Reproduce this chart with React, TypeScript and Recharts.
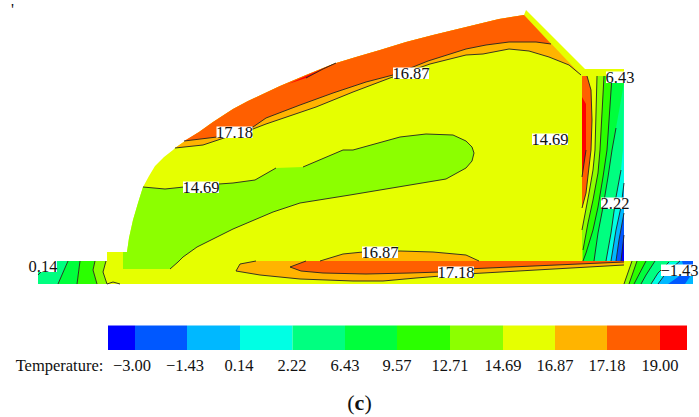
import React from 'react';
import {
  Polygon,
  ReferenceArea,
  Scatter,
  ScatterChart,
  XAxis,
  YAxis,
} from 'recharts';

type Pair = [number, number];

const colorStops = [108, 135, 187, 240, 292.5, 345, 397, 450, 503, 555, 607, 660, 687];
const tickValues = ['−3.00', '−1.43', '0.14', '2.22', '6.43', '9.57', '12.71', '14.69', '16.87', '17.18', '19.00'];
const tickPositions = [132, 185, 239, 292, 345, 397, 450, 503, 555, 607, 660];

const BLUE = '#0000ff';
const AZURE = '#0058ff';
const SKY = '#00b8ff';
const CYAN = '#00ffe4';
const SPRING = '#00ff80';
const GREEN = '#00ff3c';
const LIME = '#2bff00';
const LEAF = '#8cff00';
const YELLOW = '#e6ff00';
const AMBER = '#ffb400';
const ORANGE = '#ff5f00';
const RED = '#ff0000';
const levelColors = [BLUE, AZURE, SKY, CYAN, SPRING, GREEN, LIME, LEAF, YELLOW, AMBER, ORANGE, RED];

// section outline
const domeEdge: Pair[] = [[175, 148], [185, 141], [199, 132], [213, 122], [233, 109], [248, 101], [263, 94], [280, 86], [306, 75], [333, 64], [356, 57], [380, 50], [406, 42], [433, 35], [466, 27], [499, 19], [524, 15]];
const domeFlank: Pair[] = [[127, 252], [129, 238], [133, 220], [138, 203], [143, 187], [149, 176], [155, 166], [164, 157], [173, 150]];
const outline: Pair[] = [[38, 261], [107, 261], [107, 252], ...domeFlank, ...domeEdge, [526, 10], [585, 69], [624, 69], [624, 261], [693, 261], [693, 284], [38, 284]];

// top band
const upperContour: Pair[] = [[184, 141], [217, 137], [253, 127], [266, 118], [300, 105], [333, 93], [366, 82], [393, 75], [428, 61], [466, 49], [486, 45], [509, 42], [536, 42], [551, 44]];
const lowerContour: Pair[] = [[175, 148], [203, 145], [227, 137], [253, 129], [266, 124], [316, 107], [353, 92], [390, 78], [430, 64], [466, 55], [483, 54], [509, 49], [529, 51], [549, 57], [569, 65], [581, 75]];
const redSliver: Pair[] = [[288, 84], [306, 76], [336, 63], [323, 69], [306, 78]];

// central cold blob
const blobUpperA: Pair[] = [[143, 187], [165, 189], [184, 187], [219, 184], [233, 183], [255, 180], [276, 168]];
const blobUpperB: Pair[] = [[303, 167], [343, 150], [353, 150], [400, 137], [426, 134], [453, 135], [466, 141], [472, 147], [474, 153], [472, 161], [466, 168], [446, 179], [350, 195], [300, 203], [273, 212], [233, 229], [197, 247], [183, 257], [178, 262], [170, 269]];
const blobEdge: Pair[] = [[123, 269], [123, 252], [127, 252], [129, 238], [133, 220], [138, 203]];

// bottom lens
const lensTop: Pair[] = [[320, 261], [343, 254], [363, 252], [400, 251], [433, 252], [466, 255], [479, 261]];
const lensBottom: Pair[] = [[236, 271], [260, 275], [300, 279], [353, 281], [383, 281], [416, 278], [466, 274], [624, 265]];
const lensLeft: Pair[] = [[236, 271], [240, 264], [256, 261]];
const coreBottom: Pair[] = [[306, 261], [290, 267], [301, 271], [323, 273], [366, 274], [410, 273], [440, 272], [466, 269], [624, 262]];

// right column
const colOrange: Pair[] = [[587, 76], [591, 90], [592, 120], [591, 150], [589, 167], [586, 193], [582, 208]];
const colRed: Pair[] = [[582, 97], [586, 104], [586, 150], [582, 177]];
const colYellow: Pair[] = [[597, 76], [595, 150], [593, 170], [589, 193], [582, 230]];
const colLeaf: Pair[] = [[604, 76], [600, 150], [598, 173], [593, 200], [588, 223], [583, 250]];
const colLime: Pair[] = [[612, 76], [607, 150], [603, 177], [598, 207], [593, 230], [586, 253], [583, 261]];
const colGreen: Pair[] = [[624, 83], [616, 128], [612, 150], [608, 177], [603, 207], [598, 233], [594, 261]];
const colSpring: Pair[] = [[624, 100], [623, 150], [621, 170], [616, 197], [611, 233], [606, 261]];
const colCyan: Pair[] = [[624, 183], [621, 207], [616, 230], [611, 261]];
const colSky: Pair[] = [[624, 213], [619, 240], [616, 261]];
const colAzure: Pair[] = [[624, 235], [621, 261]];

// left foot
const leftSpring: Pair[] = [[68, 261], [58, 284]];
const leftGreen: Pair[] = [[80, 261], [77, 284]];
const leftLime: Pair[] = [[95, 261], [93, 270], [97, 284]];
const leftLeaf: Pair[] = [[106, 261], [103, 272], [107, 284]];
const leftArc: Pair[] = [[107, 284], [113, 282], [120, 284]];
const leftStub: Pair[] = [[38, 275], [42, 271]];

// right foot
const rightYellow: Pair[] = [[632, 261], [624, 284]];
const rightLeaf: Pair[] = [[637, 261], [629, 284]];
const rightLime: Pair[] = [[646, 261], [634, 284]];
const rightGreen: Pair[] = [[655, 261], [646, 275], [641, 284]];
const rightSpring: Pair[] = [[669, 262], [658, 273], [651, 284]];
const rightCyan: Pair[] = [[680, 261], [666, 273], [658, 284]];
const rightBlue: Pair[] = [[668, 284], [678, 277], [684, 268], [682, 261], [693, 261], [693, 272], [685, 284]];

const contourLabels = [
  { x: 411, y: 73, text: '16.87' },
  { x: 234.5, y: 132, text: '17.18' },
  { x: 550, y: 139, text: '14.69' },
  { x: 620, y: 77, text: '6.43' },
  { x: 201, y: 187, text: '14.69' },
  { x: 615, y: 203, text: '2.22' },
  { x: 380, y: 252, text: '16.87' },
  { x: 456, y: 272, text: '17.18' },
  { x: 43, y: 266, text: '0.14' },
  { x: 679.5, y: 270, text: '−1.43' },
];

const toPoints = (list: Pair[]) => list.map(([x, y]) => ({ x, y }));
const FONT = '"Liberation Serif", "Times New Roman", serif';
const noDot = () => null;

const regions: { color: string; pts: Pair[] }[] = [
  { color: YELLOW, pts: outline },
  // top band
  { color: AMBER, pts: [...domeEdge, [581, 75], ...[...lowerContour].reverse()] },
  { color: ORANGE, pts: [[184, 141], ...domeEdge.slice(2), [551, 44], ...[...upperContour].reverse()] },
  { color: RED, pts: redSliver },
  // cold blob
  { color: LEAF, pts: [...blobEdge, ...blobUpperA, ...blobUpperB] },
  // lens
  { color: AMBER, pts: [...lensLeft, ...lensTop, [624, 261], ...[...lensBottom].reverse()] },
  { color: ORANGE, pts: [[624, 261], ...[...coreBottom].reverse()] },
  // column
  { color: ORANGE, pts: [[582, 76], ...colOrange] },
  { color: RED, pts: colRed },
  { color: LEAF, pts: [...colYellow, [582, 261], [624, 261], [624, 76]] },
  { color: LIME, pts: [...colLeaf, [583, 261], [624, 261], [624, 76]] },
  { color: GREEN, pts: [...colLime, [624, 261], [624, 76]] },
  { color: SPRING, pts: [...colGreen, [624, 261]] },
  { color: CYAN, pts: [...colSpring, [624, 261]] },
  { color: SKY, pts: [...colCyan, [624, 261]] },
  { color: AZURE, pts: [...colSky, [624, 261]] },
  { color: BLUE, pts: [...colAzure, [624, 261]] },
  // left foot
  { color: SPRING, pts: [[38, 261], ...leftSpring, [38, 284]] },
  { color: GREEN, pts: [...leftSpring, ...[...leftGreen].reverse()] },
  { color: LIME, pts: [...leftGreen, ...[...leftLime].reverse()] },
  { color: LEAF, pts: [...leftLime, ...[...leftLeaf].reverse()] },
  // right foot
  { color: LEAF, pts: [...rightYellow, [693, 284], [693, 261]] },
  { color: LIME, pts: [...rightLeaf, [693, 284], [693, 261]] },
  { color: GREEN, pts: [...rightLime, [693, 284], [693, 261]] },
  { color: SPRING, pts: [...rightGreen, [693, 284], [693, 261]] },
  { color: CYAN, pts: [...rightSpring, [693, 284], [693, 261]] },
  { color: SKY, pts: [...rightCyan, [693, 284], [693, 261]] },
  { color: AZURE, pts: rightBlue },
];

const contours: Pair[][] = [
  upperContour, lowerContour, redSliver.slice(2),
  blobUpperA, blobUpperB,
  lensTop, lensBottom, lensLeft, coreBottom,
  colOrange, colRed.slice(2), colYellow, colLeaf, colLime, colGreen.slice(1), colSpring.slice(2), colCyan, colSky, colAzure,
  leftSpring, leftGreen, leftLime, leftLeaf, leftArc, leftStub,
  rightYellow, rightLeaf, rightLime, rightGreen, rightSpring, rightCyan,
];

const textWidth = (s: string) =>
  s.split('').reduce((w, c) => w + (c === '.' ? 4 : c === '−' ? 9 : 8), 0);

const ContourLabel = (props: any) => {
  const { cx, cy, payload } = props;
  const w = textWidth(payload.text);
  return (
    <g>
      <rect x={cx - w / 2} y={cy - 5.5} width={w} height={11.5} fill="#fff" />
      <text x={cx} y={cy + 5.5} textAnchor="middle" fontFamily={FONT} fontSize={16.5} fill="#111">
        {payload.text}
      </text>
    </g>
  );
};

const TickLabel = (props: any) => (
  <text x={props.cx} y={props.cy} textAnchor="middle" fontFamily={FONT} fontSize={16.5} fill="#111">
    {props.payload.text}
  </text>
);

const Caption = (props: any) => (
  <text x={props.cx} y={props.cy} textAnchor="middle" fontFamily={FONT} fontSize={22} fill="#111">
    (<tspan fontWeight="bold">{props.payload.text}</tspan>)
  </text>
);

const legendLabels = [
  { x: 59.5, y: 371, text: 'Temperature:' },
  ...tickValues.map((text, i) => ({ x: tickPositions[i], y: 371, text })),
  { x: 12.5, y: 15, text: "'" },
];

export default function App() {
  return (
    <div style={{ position: 'absolute', left: 0, top: 0 }}>
      <ScatterChart width={699} height={417} margin={{ top: 0, right: 0, bottom: 0, left: 0 }}>
        <XAxis type="number" dataKey="x" domain={[0, 699]} hide />
        <YAxis type="number" dataKey="y" domain={[0, 417]} reversed hide />
        {levelColors.map((color, i) => (
          <ReferenceArea
            key={color}
            x1={colorStops[i]}
            x2={colorStops[i + 1]}
            y1={325.5}
            y2={350}
            fill={color}
            fillOpacity={1}
            stroke="none"
          />
        ))}
        {regions.map((r, i) => (
          <Scatter
            key={`region-${i}`}
            data={toPoints(r.pts)}
            shape={noDot}
            isAnimationActive={false}
            line={(p: any) => <Polygon points={p.points} fill={r.color} stroke="none" />}
          />
        ))}
        {contours.map((c, i) => (
          <Scatter
            key={`contour-${i}`}
            data={toPoints(c)}
            shape={noDot}
            isAnimationActive={false}
            fill="#222"
            line={{ stroke: '#222', strokeWidth: 0.9 }}
          />
        ))}
        <Scatter data={contourLabels} shape={ContourLabel} isAnimationActive={false} />
        <Scatter data={legendLabels} shape={TickLabel} isAnimationActive={false} />
        <Scatter data={[{ x: 359.5, y: 410, text: 'c' }]} shape={Caption} isAnimationActive={false} />
      </ScatterChart>
    </div>
  );
}
